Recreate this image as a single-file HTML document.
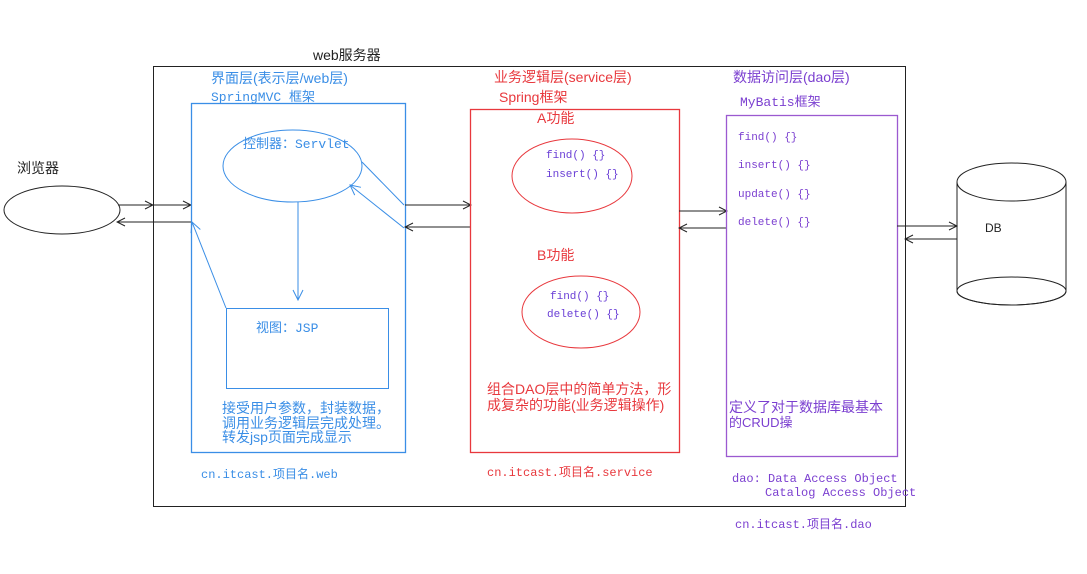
<!DOCTYPE html>
<html><head><meta charset="utf-8"><style>
html,body{margin:0;padding:0;background:#fff;}
svg{display:block;}
.s{font-family:"Liberation Sans","Noto Sans CJK SC",sans-serif;}
.m{font-family:"Liberation Mono","Noto Sans CJK SC",monospace;}
</style></head><body>
<svg width="1087" height="574" viewBox="0 0 1087 574" xmlns="http://www.w3.org/2000/svg">
<defs>
<marker id="ak" markerWidth="10" markerHeight="10" refX="9" refY="5" orient="auto" markerUnits="userSpaceOnUse"><path d="M1,1 L9,5 L1,9" fill="none" stroke="#222" stroke-width="1"/></marker>
<marker id="ab" markerWidth="12" markerHeight="12" refX="11" refY="6" orient="auto" markerUnits="userSpaceOnUse"><path d="M1,1 L11,6 L1,11" fill="none" stroke="#3a8ee6" stroke-width="1"/></marker>
</defs>
<rect width="1087" height="574" fill="#fff"/>
<!-- outer -->
<rect x="153.5" y="66.5" width="752" height="440" fill="none" stroke="#222" stroke-width="1"/>
<text x="313" y="60" class="s" font-size="14" fill="#222">web服务器</text>

<!-- browser -->
<text x="17" y="173" class="s" font-size="14" fill="#222">浏览器</text>
<ellipse cx="62" cy="210" rx="58" ry="24" fill="none" stroke="#222"/>
<line x1="118" y1="205" x2="153" y2="205" stroke="#222" marker-end="url(#ak)"/>
<line x1="153" y1="205" x2="191" y2="205" stroke="#222" marker-end="url(#ak)"/>
<line x1="191" y1="222" x2="117" y2="222" stroke="#222" marker-end="url(#ak)"/>

<!-- web layer -->
<g fill="#3a8ee6">
<text x="211" y="83" class="s" font-size="14">界面层(表示层/web层)</text>
<text x="211" y="101" class="m" font-size="13">SpringMVC 框架</text>
<text x="243" y="148" class="m" font-size="13">控制器：Servlet</text>
<text x="256" y="332" class="m" font-size="13">视图：JSP</text>
<text x="222" y="413" class="s" font-size="14">接受用户参数，封装数据，</text>
<text x="222" y="428" class="s" font-size="14">调用业务逻辑层完成处理。</text>
<text x="222" y="442" class="s" font-size="14">转发jsp页面完成显示</text>
<text x="201" y="478" class="m" font-size="12">cn.itcast.项目名.web</text>
</g>
<rect x="191.5" y="103.5" width="214" height="349" fill="none" stroke="#3a8ee6" stroke-width="1.3"/>
<ellipse cx="292.5" cy="166" rx="69.5" ry="36" fill="none" stroke="#3a8ee6"/>
<line x1="298" y1="202" x2="298" y2="300" stroke="#3a8ee6" marker-end="url(#ab)"/>
<rect x="226.5" y="308.5" width="162" height="80" fill="none" stroke="#3a8ee6"/>
<line x1="226" y1="308" x2="192" y2="222" stroke="#3a8ee6" marker-end="url(#ab)"/>
<line x1="362" y1="162" x2="404" y2="205" stroke="#3a8ee6"/>
<line x1="404" y1="228" x2="350" y2="185" stroke="#3a8ee6" marker-end="url(#ab)"/>

<line x1="405" y1="205" x2="471" y2="205" stroke="#222" marker-end="url(#ak)"/>
<line x1="471" y1="227" x2="405" y2="227" stroke="#222" marker-end="url(#ak)"/>

<!-- service layer -->
<g fill="#e8383d">
<text x="494" y="82" class="s" font-size="14">业务逻辑层(service层)</text>
<text x="499" y="102" class="s" font-size="14">Spring框架</text>
<text x="537" y="123" class="s" font-size="14">A功能</text>
<text x="537" y="260" class="s" font-size="14">B功能</text>
<text x="487" y="394" class="s" font-size="14">组合DAO层中的简单方法，形</text>
<text x="487" y="410" class="s" font-size="14">成复杂的功能(业务逻辑操作)</text>
<text x="487" y="476" class="m" font-size="12">cn.itcast.项目名.service</text>
</g>
<rect x="470.5" y="109.5" width="209" height="343" fill="none" stroke="#e8383d" stroke-width="1.3"/>
<ellipse cx="572" cy="176" rx="60" ry="37" fill="none" stroke="#e8383d"/>
<ellipse cx="581" cy="312" rx="59" ry="36" fill="none" stroke="#e8383d"/>
<g fill="#6a3fd6" class="m" font-size="11">
<text x="546" y="158">find() {}</text>
<text x="546" y="177">insert() {}</text>
<text x="550" y="299">find() {}</text>
<text x="547" y="317">delete() {}</text>
</g>

<line x1="679" y1="211" x2="727" y2="211" stroke="#222" marker-end="url(#ak)"/>
<line x1="727" y1="228" x2="679" y2="228" stroke="#222" marker-end="url(#ak)"/>

<!-- dao layer -->
<rect x="726.5" y="115.5" width="171" height="341" fill="none" stroke="#9b59d0" stroke-width="1.3"/>
<g fill="#7b3fd0">
<text x="733" y="82" class="s" font-size="14">数据访问层(dao层)</text>
<text x="740" y="106" class="m" font-size="13">MyBatis框架</text>
<text x="738" y="140" class="m" font-size="11">find() {}</text>
<text x="738" y="168" class="m" font-size="11">insert() {}</text>
<text x="738" y="197" class="m" font-size="11">update() {}</text>
<text x="738" y="225" class="m" font-size="11">delete() {}</text>
<text x="729" y="412" class="s" font-size="14">定义了对于数据库最基本</text>
<text x="729" y="427" class="s" font-size="13">的CRUD操</text>
<text x="732" y="482" class="m" font-size="12">dao: Data Access Object</text>
<text x="765" y="496" class="m" font-size="12">Catalog Access Object</text>
<text x="735" y="528" class="m" font-size="12">cn.itcast.项目名.dao</text>
</g>

<!-- DB -->
<line x1="897" y1="226" x2="957" y2="226" stroke="#222" marker-end="url(#ak)"/>
<line x1="957" y1="239" x2="905" y2="239" stroke="#222" marker-end="url(#ak)"/>
<path d="M957,182 L957,291 M1066,182 L1066,291" stroke="#222" fill="none"/>
<path d="M957,291 A54.5,14 0 0 0 1066,291" stroke="#222" fill="#fff"/>
<ellipse cx="1011.5" cy="291" rx="54.5" ry="14" fill="none" stroke="#222"/>
<ellipse cx="1011.5" cy="182" rx="54.5" ry="19" fill="#fff" stroke="#222"/>
<text x="985" y="232" class="s" font-size="12" fill="#222">DB</text>
</svg>
</body></html>
